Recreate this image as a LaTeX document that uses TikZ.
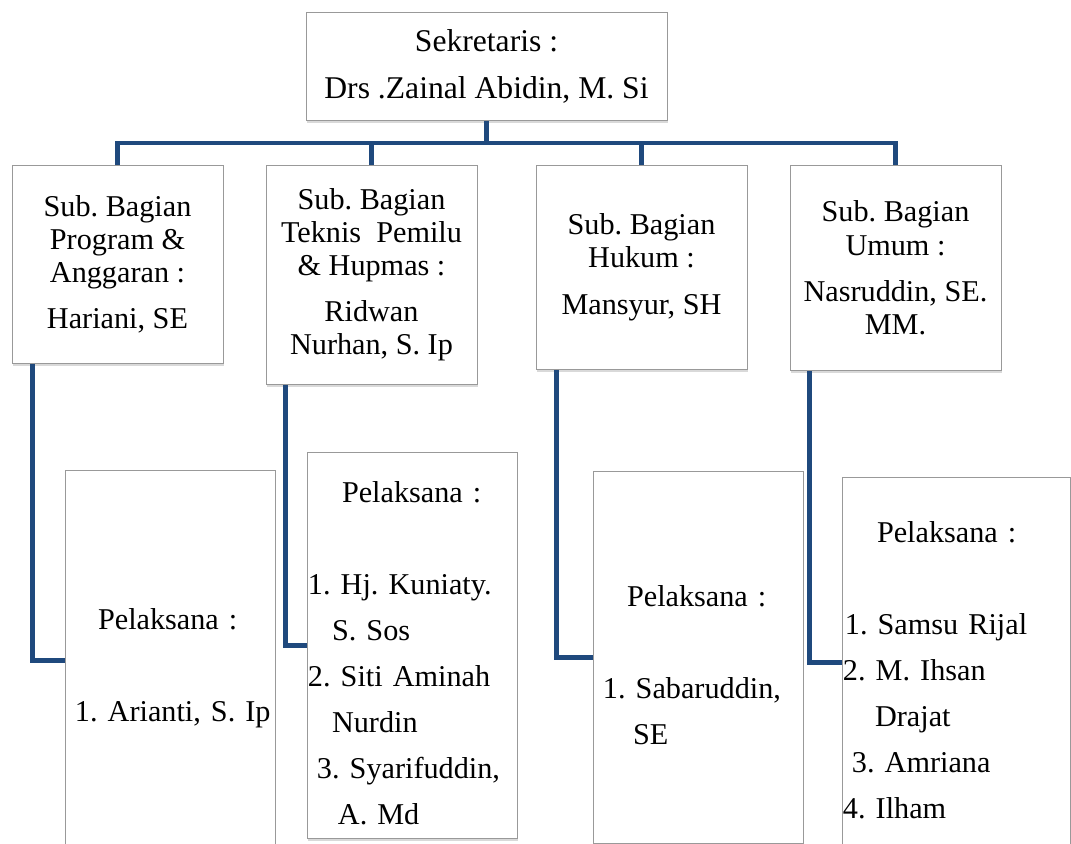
\documentclass[tikz,border=0pt]{standalone}
\usepackage{fontspec}
\setmainfont{Liberation Serif}
\usepackage{xcolor}
\usepackage{tikz}
\usetikzlibrary{positioning, shadows}
\definecolor{linkblue}{RGB}{31,73,125}
\tikzstyle{link} = [draw=linkblue, line width=3.5pt]
\frenchspacing

\begin{document}
\begin{tikzpicture}[
    unitbox/.style={rectangle, draw=black!40, line width=0.6pt, fill=white, inner sep=0pt,
        drop shadow={shadow xshift=0.4pt, shadow yshift=-1.6pt, opacity=0.3}},
    headbox/.style={unitbox, align=center, minimum width=9.025cm, minimum height=2.7cm, font=\fontsize{22.5}{33.4}\selectfont,
        execute at begin node={\rule{0pt}{19.5pt}}},
    subbox/.style={unitbox, align=center, minimum width=5.275cm, font=\fontsize{21.5}{23.5}\selectfont,
        execute at begin node={\rule{0pt}{20.5pt}}},
    staffbox/.style={unitbox, align=left, text width=5.25cm, font=\fontsize{21.5}{32.7}\selectfont,
        execute at begin node={\rule{0pt}{26pt}}}]

    \useasboundingbox (0,0) rectangle (26.775,-21.1);
    \clip (0,0) rectangle (26.775,-21.1);

    % SECRETARY
    \node[headbox, anchor=north] (sek) at (12.1625,-0.3) {Sekretaris :\\Drs .Zainal Abidin, M. Si};

    % Sub sections - Row 1
    \node[subbox, minimum height=4.95cm, anchor=north] (s1) at (2.9375,-4.125) {Sub. Bagian\\Program \&\\Anggaran :\\[9.5pt]Hariani, SE};
    \node[subbox, minimum height=5.475cm, anchor=north] (s2) at (9.2875,-4.125) {Sub. Bagian\\Teknis~ Pemilu\\\& Hupmas :\\[9.5pt]Ridwan\\Nurhan, S. Ip};
    \node[subbox, minimum height=5.1cm, anchor=north] (s3) at (16.0375,-4.125) {Sub. Bagian\\Hukum :\\[9.5pt]Mansyur, SH};
    \node[subbox, minimum height=5.125cm, anchor=north] (s4) at (22.3875,-4.125) {Sub. Bagian\\Umum :\\[9.5pt]Nasruddin, SE.\\MM.};

    % Staff - Row 2
    \node[staffbox, minimum height=9.5cm, anchor=north] (p1) at (4.25,-11.75) {\hspace*{23.5pt}Pelaksana :\\[32.7pt]\hspace*{7.1pt}1.~Arianti,~S.~Ip};
    \node[staffbox, minimum height=9.65cm, anchor=north] (p2) at (10.3,-11.3) {\hspace*{24.9pt}Pelaksana :\\[32.7pt]\hspace*{0.7pt}1. Hj. Kuniaty.\\\hspace*{17.8pt}S. Sos\\\hspace*{0.7pt}2. Siti Aminah\\\hspace*{17.8pt}Nurdin\\\hspace*{7.1pt}3. Syarifuddin,\\\hspace*{22pt}A. Md};
    \node[staffbox, minimum height=9.3cm, anchor=north] (p3) at (17.45,-11.775) {\hspace*{24.2pt}Pelaksana :\\[32.7pt]\hspace*{7.1pt}1. Sabaruddin,\\\hspace*{28.5pt}SE};
    \node[staffbox, text width=5.7cm, minimum height=9.25cm, anchor=north] (p4) at (23.9,-11.925) {\hspace*{24.9pt}Pelaksana :\\[32.7pt]\hspace*{2.1pt}1. Samsu Rijal\\\hspace*{0.7pt}2. M. Ihsan\\\hspace*{23.5pt}Drajat\\\hspace*{7.1pt}3. Amriana\\\hspace*{0.7pt}4. Ilham};

    % Secretary to sub sections
    \coordinate (bus) at (0,-3.575);
    \draw[link] (sek.south) -- (sek.south |- bus);
    \draw[link] (s1.north) -- (s1.north |- bus) -| (s4.north);
    \draw[link] (s2.north) -- (s2.north |- bus);
    \draw[link] (s3.north) -- (s3.north |- bus);

    % Sub sections to staff
    \draw[link] ([xshift=0.525cm]s1.south west) |- (p1.west);
    \draw[link] ([xshift=0.5cm]s2.south west) |- (p2.west);
    \draw[link] ([xshift=0.525cm]s3.south west) |- (p3.west);
    \draw[link] ([xshift=0.5cm]s4.south west) |- (p4.west);

\end{tikzpicture}
\end{document}
